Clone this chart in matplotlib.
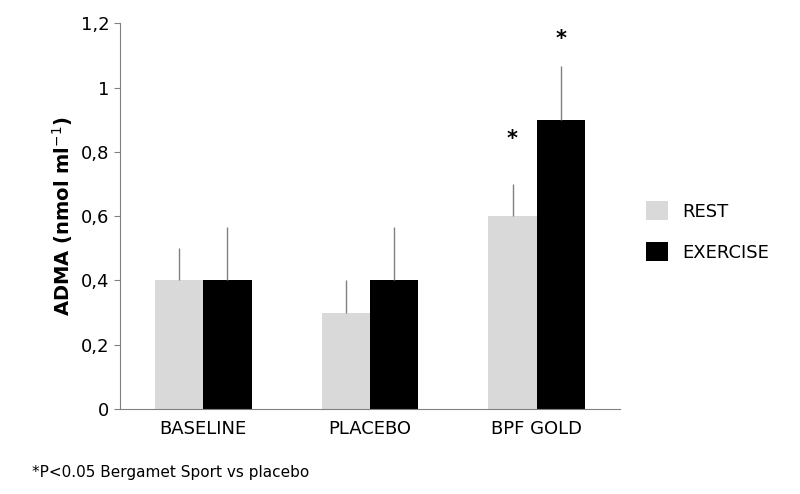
import matplotlib
matplotlib.use("Agg")
import matplotlib.pyplot as plt
import numpy as np

categories = ["BASELINE", "PLACEBO", "BPF GOLD"]
rest = [0.4, 0.3, 0.6]
exercise = [0.4, 0.4, 0.9]
rest_err = [0.1, 0.1, 0.1]
ex_err = [0.167, 0.167, 0.167]
yticks = [0, 0.2, 0.4, 0.6, 0.8, 1.0, 1.2]
ytick_labels = ["0", "0,2", "0,4", "0,6", "0,8", "1", "1,2"]

fig = plt.figure(figsize=(8, 4.94), dpi=100)
ax = fig.add_axes([0.15, 0.172, 0.625, 0.781])
x = np.arange(len(categories))
w = 0.29
ax.bar(x - w/2, rest, w, color="#d9d9d9", label="REST")
ax.bar(x + w/2, exercise, w, color="black", label="EXERCISE")
ax.errorbar(x - w/2, rest, yerr=[np.zeros(3), rest_err], fmt="none", ecolor="#808080", elinewidth=1, capsize=0)
ax.errorbar(x + w/2, exercise, yerr=[np.zeros(3), ex_err], fmt="none", ecolor="#808080", elinewidth=1, capsize=0)
ax.text(x[2] - w/2, 0.84, "*", ha="center", va="center", fontsize=15, fontweight="bold")
ax.text(x[2] + w/2, 1.15, "*", ha="center", va="center", fontsize=15, fontweight="bold")
ax.set_xlim(-0.5, 2.5)
ax.set_ylim(0, 1.2)
ax.set_yticks(yticks)
ax.set_yticklabels(ytick_labels, fontsize=13)
ax.set_xticks(x)
ax.set_xticklabels(categories, fontsize=13)
ax.tick_params(axis="x", length=0, pad=8)
ax.tick_params(axis="y", length=4, color="#808080")
for s in ["top", "right"]:
    ax.spines[s].set_visible(False)
for s in ["left", "bottom"]:
    ax.spines[s].set_color("#808080")
ax.set_ylabel("ADMA (nmol ml$^{-1}$)", fontsize=14, fontweight="bold", labelpad=4)
ax.legend(loc="center left", bbox_to_anchor=(1.02, 0.46), frameon=False, fontsize=13,
          handlelength=1.2, handleheight=1.2, labelspacing=1.2)
fig.text(0.04, 0.035, "*P<0.05 Bergamet Sport vs placebo", fontsize=11)
fig.savefig("out.png")
